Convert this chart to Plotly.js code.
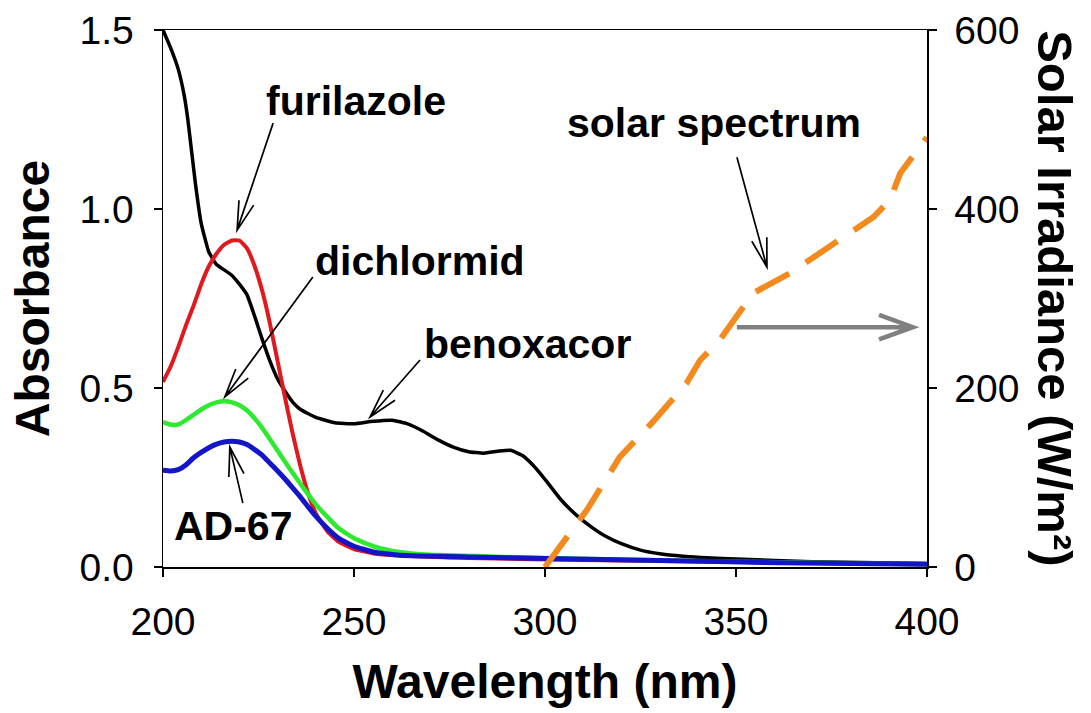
<!DOCTYPE html>
<html>
<head>
<meta charset="utf-8">
<script src="https://cdn.plot.ly/plotly-3.0.1.min.js"></script>
<style>html,body{margin:0;padding:0;background:#fff;}#chart{width:1091px;height:713px;}</style>
</head>
<body>
<div id="chart"></div>
<script>
// ---------- data ----------
// Benoxacor (black)
const benoxacorX = [200, 202, 204, 205.5, 206.5, 207.5, 208.5, 210, 212, 214, 216, 218, 220, 222, 224, 226, 228, 230, 232, 234, 236, 240, 245, 250, 255, 260, 264, 268, 272, 276, 280, 284, 288, 291, 294, 297, 300, 304, 308, 312, 316, 320, 325, 330, 340, 350, 370, 400];
const benoxacorY = [1.50, 1.45, 1.39, 1.32, 1.25, 1.16, 1.07, 0.96, 0.88, 0.845, 0.83, 0.815, 0.79, 0.76, 0.70, 0.635, 0.575, 0.525, 0.49, 0.46, 0.44, 0.418, 0.403, 0.400, 0.407, 0.41, 0.40, 0.38, 0.355, 0.335, 0.322, 0.318, 0.324, 0.326, 0.312, 0.283, 0.245, 0.19, 0.147, 0.113, 0.085, 0.065, 0.047, 0.037, 0.027, 0.022, 0.015, 0.01];
// Furilazole (red)
const furilazoleX = [200, 202, 204, 206, 208, 210, 212, 214, 216, 218, 220, 222, 224, 226, 228, 230, 232, 234, 236, 238, 240, 243, 246, 250, 255, 262, 280, 320, 400];
const furilazoleY = [0.517, 0.56, 0.615, 0.675, 0.73, 0.79, 0.84, 0.875, 0.90, 0.912, 0.912, 0.89, 0.84, 0.77, 0.68, 0.575, 0.47, 0.37, 0.28, 0.205, 0.15, 0.10, 0.07, 0.05, 0.038, 0.032, 0.025, 0.018, 0.008];
// Dichlormid (green)
const dichlormidX = [200, 202, 204, 206, 208, 210, 212, 214, 216, 218, 220, 222, 224, 226, 228, 230, 232, 234, 236, 238, 240, 243, 246, 250, 255, 260, 265, 270, 300, 350, 400];
const dichlormidY = [0.405, 0.398, 0.398, 0.41, 0.425, 0.44, 0.452, 0.46, 0.463, 0.46, 0.452, 0.437, 0.415, 0.388, 0.357, 0.325, 0.293, 0.262, 0.232, 0.203, 0.175, 0.14, 0.108, 0.08, 0.058, 0.045, 0.038, 0.034, 0.025, 0.015, 0.008];
// AD-67 (blue)
const ad67X = [200, 202, 204, 206, 208, 210, 212, 214, 216, 218, 220, 222, 224, 226, 228, 230, 232, 234, 236, 238, 240, 243, 246, 250, 255, 262, 280, 300, 330, 367, 400];
const ad67Y = [0.27, 0.268, 0.272, 0.285, 0.305, 0.32, 0.333, 0.343, 0.349, 0.351, 0.349, 0.342, 0.328, 0.312, 0.29, 0.268, 0.245, 0.22, 0.195, 0.168, 0.142, 0.108, 0.08, 0.058, 0.042, 0.033, 0.028, 0.024, 0.018, 0.011, 0.008];
// Solar spectrum (orange dashed, right axis, W/m2)
const solarX = [300, 311, 319.6, 328, 337, 340.6, 345.8, 354.5, 364, 369.4, 376, 386, 390.3, 393, 400];
const solarY = [0, 64, 123, 161, 205, 231, 254, 306, 328, 343, 362, 391, 410, 440, 480];

const xTicks = [200, 250, 300, 350, 400];
const yTicks = [0, 0.5, 1.0, 1.5];
const y2Ticks = [0, 200, 400, 600];
const labelTexts = ['furilazole', 'dichlormid', 'benoxacor', 'AD-67', 'solar spectrum'];

// ---------- styling / layout ----------
const FONT = 'Arial, "Liberation Sans", Helvetica, sans-serif';
const W = 1091, H = 713;
const M = {l: 163, r: 164, t: 30, b: 146};
const xRange = [200, 400], yRange = [0, 1.5], y2Range = [0, 600];
const plotW = W - M.l - M.r, plotH = H - M.t - M.b;

function absTrace(x, y, color, width, name) {
  return {x: x, y: y, type: 'scatter', mode: 'lines', name: name,
    line: {color: color, width: width, shape: 'spline', smoothing: 0.4}};
}

const traces = [
  absTrace(benoxacorX, benoxacorY, '#000000', 3.5, labelTexts[2]),
  absTrace(furilazoleX, furilazoleY, '#E0191F', 4, labelTexts[0]),
  absTrace(dichlormidX, dichlormidY, '#2EEA2E', 4.5, labelTexts[1]),
  absTrace(ad67X, ad67Y, '#1414C8', 5, labelTexts[3]),
  {x: solarX, y: solarY, type: 'scatter', mode: 'lines', name: labelTexts[4], yaxis: 'y2',
   line: {color: '#F28A1E', width: 6, dash: '38px,20px'}}
];

// annotation label placements (data coordinates of text centres)
const labelPos = [
  {x: 250.5, y: 1.302},
  {x: 267.3, y: 0.855},
  {x: 295.3, y: 0.624},
  {x: 218.2, y: 0.115},
  {x: 344.2, y: 1.24}
];
const annFont = {family: FONT, size: 41, color: '#000'};
const annotations = labelTexts.map((t, i) => ({
  text: '<b>' + t + '</b>', x: labelPos[i].x, y: labelPos[i].y, xref: 'x', yref: 'y',
  showarrow: false, font: annFont, xanchor: 'center', yanchor: 'middle'
}));
annotations.push({text: '<b>Solar Irradiance (W/m²)</b>', xref: 'paper', yref: 'paper', x: 1.168, y: 0.5,
  showarrow: false, textangle: 90, xanchor: 'center', yanchor: 'middle',
  font: {family: FONT, size: 49, color: '#000'}});

// pointer arrows: head in data coords, tail as pixel offset from head
const arrowSpecs = [
  {hx: 219.4, hy: 0.941, dx: 36, dy: -107, yref: 'y'},
  {hx: 216.2, hy: 0.475, dx: 88, dy: -120, yref: 'y'},
  {hx: 254.2, hy: 0.419, dx: 50, dy: -57, yref: 'y'},
  {hx: 217.5, hy: 0.335, dx: 13, dy: 56, yref: 'y'},
  {hx: 358.1, hy: 335, dx: -30, dy: -110, yref: 'y2'},
  {hx: 396.3, hy: 0.67, dx: -176, dy: 0, yref: 'y', color: '#808080', width: 4.5, barb: 36, ang: 20}
];
function arrowShape(s) {
  const yr = s.yref === 'y2' ? y2Range : yRange;
  const kx = (xRange[1] - xRange[0]) / plotW;          // data per px
  const ky = (yr[1] - yr[0]) / plotH;
  const toD = (px, py) => [s.hx + px * kx, s.hy - py * ky];
  const len = Math.hypot(s.dx, s.dy);
  const ux = s.dx / len, uy = s.dy / len;               // head -> tail direction (px)
  const bl = s.barb || 30, a = (s.ang || 15) * Math.PI / 180;
  const rot = (x, y, t) => [x * Math.cos(t) - y * Math.sin(t), x * Math.sin(t) + y * Math.cos(t)];
  const b1 = rot(ux, uy, a), b2 = rot(ux, uy, -a);
  const T = toD(s.dx, s.dy), Hd = toD(0, 0);
  const B1 = toD(b1[0] * bl, b1[1] * bl), B2 = toD(b2[0] * bl, b2[1] * bl);
  const p = (q) => q[0] + ',' + q[1];
  return {type: 'path', xref: 'x', yref: s.yref,
    path: 'M' + p(T) + 'L' + p(Hd) + 'M' + p(B1) + 'L' + p(Hd) + 'L' + p(B2),
    line: {color: s.color || '#000', width: s.width || 1.7}, layer: 'above'};
}

const layout = {
  width: W, height: H, margin: M,
  paper_bgcolor: '#ffffff', plot_bgcolor: '#ffffff',
  showlegend: false,
  font: {family: FONT, color: '#000'},
  xaxis: {
    range: xRange, tickvals: xTicks, ticks: 'outside', ticklen: 8, tickwidth: 1.5, tickcolor: '#000',
    ticklabelstandoff: 12,
    showline: true, linecolor: '#000', linewidth: 1.5, mirror: true, showgrid: false, zeroline: false,
    tickfont: {family: FONT, size: 39, color: '#000'},
    title: {text: '<b>Wavelength (nm)</b>', font: {family: FONT, size: 48, color: '#000'}, standoff: 22}
  },
  yaxis: {
    range: yRange, tickvals: yTicks, tickformat: '.1f', ticks: 'outside', ticklen: 8, tickwidth: 1.5, tickcolor: '#000',
    ticklabelstandoff: 12,
    showline: true, linecolor: '#000', linewidth: 1.5, showgrid: false, zeroline: false,
    tickfont: {family: FONT, size: 39, color: '#000'},
    title: {text: '<b>Absorbance</b>', font: {family: FONT, size: 48, color: '#000'}, standoff: 14}
  },
  yaxis2: {
    range: y2Range, tickvals: y2Ticks, overlaying: 'y', side: 'right', ticks: 'outside', ticklen: 8, tickwidth: 1.5, tickcolor: '#000',
    ticklabelstandoff: 10,
    showline: true, linecolor: '#000', linewidth: 1.5, showgrid: false, zeroline: false,
    tickfont: {family: FONT, size: 39, color: '#000'}
  },
  annotations: annotations,
  shapes: arrowSpecs.map(arrowShape)
};

Plotly.newPlot('chart', traces, layout, {displayModeBar: false, staticPlot: true});
</script>
</body>
</html>
